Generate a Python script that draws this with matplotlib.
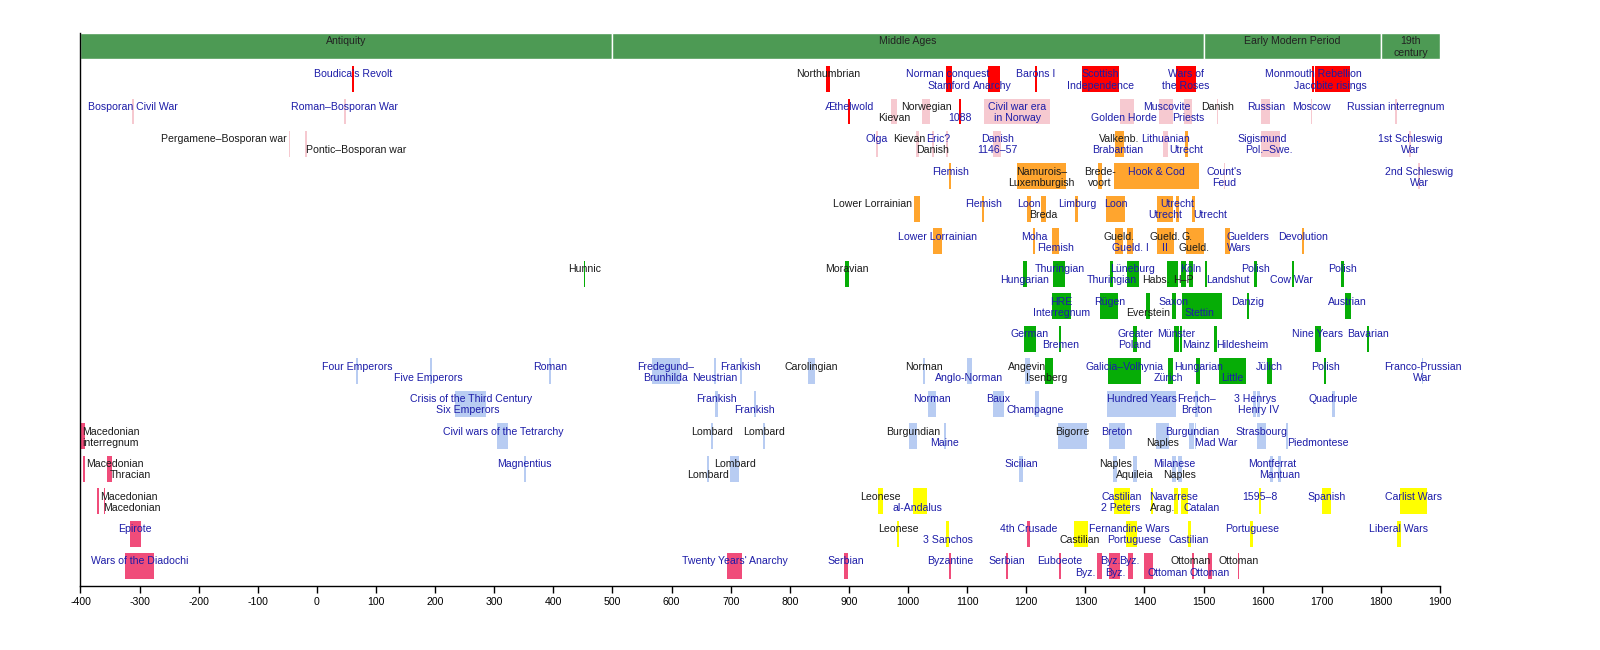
import matplotlib
matplotlib.use("Agg")
import matplotlib.pyplot as plt

plt.rcParams['font.family'] = ['Liberation Sans', 'DejaVu Sans']

# ---------------- data ----------------
ERA_NAMES = ["Antiquity", "Middle Ages", "Early Modern Period", "19th\ncentury"]
ERA_BOUNDS = [-400, 500, 1500, 1800, 1900]
X_TICKS = list(range(-400, 1901, 100))

# kind of conflict -> colour group
KIND_COLORS = {
    "brit": "#ff0000",
    "east": "#f6c9d0",
    "low": "#ffa52e",
    "ger": "#06ad06",
    "west": "#b8ccf2",
    "iber": "#ffff00",
    "south": "#f04c7a",
}

# (name, start, end, kind, linked)
row_00 = [("Boudica's Revolt", 59, 62, "brit", 1), ("Northumbrian", 862, 868, "brit", 0),
          ("Norman conquest", 1064, 1075, "brit", 1), ("Stamford", 1066, 1067, "brit", 1),
          ("Anarchy", 1135, 1155, "brit", 1), ("Barons I", 1214, 1218, "brit", 1),
          ("Scottish\nIndependence", 1294, 1357, "brit", 1), ("Wars of\nthe Roses", 1453, 1488, "brit", 1),
          ("Monmouth Rebellion", 1684, 1686, "brit", 1), ("Jacobite risings", 1689, 1747, "brit", 1)]
row_01 = [("Bosporan Civil War", -312, -309, "east", 1), ("Roman–Bosporan War", 45, 50, "east", 1),
          ("Æthelwold", 899, 902, "brit", 1), ("Kievan", 971, 981, "east", 0),
          ("Norwegian", 1024, 1037, "east", 0), ("1088", 1087, 1090, "brit", 1),
          ("Civil war era\nin Norway", 1129, 1241, "east", 1), ("Golden Horde", 1359, 1382, "east", 1),
          ("Muscovite", 1425, 1449, "east", 1), ("Priests", 1467, 1480, "east", 1),
          ("Danish", 1522, 1525, "east", 0), ("Russian", 1598, 1613, "east", 1),
          ("Moscow", 1682, 1684, "east", 1), ("Russian interregnum", 1824, 1827, "east", 1)]
row_02 = [("Pergamene–Bosporan war", -48, -45, "east", 0), ("Pontic–Bosporan war", -20, -17, "east", 0),
          ("Olga", 945, 950, "east", 1), ("Kievan", 1013, 1019, "east", 0),
          ("Danish", 1041, 1044, "east", 0), ("Eric?", 1064, 1067, "east", 1),
          ("Danish\n1146–57", 1144, 1158, "east", 1), ("Valkenb.", 1350, 1366, "low", 0),
          ("Brabantian", 1356, 1357, "low", 1), ("Lithuanian", 1431, 1439, "east", 1),
          ("Utrecht", 1469, 1474, "low", 1), ("Sigismund", 1598, 1600, "east", 1),
          ("Pol.–Swe.", 1600, 1629, "east", 1), ("1st Schleswig\nWar", 1848, 1851, "east", 1)]
row_03 = [("Flemish", 1070, 1073, "low", 1), ("Namurois–\nLuxemburgish", 1184, 1267, "low", 0),
          ("Brede-\nvoort", 1322, 1328, "low", 0), ("Hook & Cod", 1349, 1492, "low", 1),
          ("Count's\nFeud", 1534, 1536, "east", 1), ("2nd Schleswig\nWar", 1863, 1866, "east", 1)]
row_04 = [("Lower Lorrainian", 1010, 1020, "low", 0), ("Flemish", 1125, 1129, "low", 1),
          ("Loon", 1202, 1208, "low", 1), ("Breda", 1225, 1233, "low", 0),
          ("Limburg", 1283, 1288, "low", 1), ("Loon", 1335, 1367, "low", 1),
          ("Utrecht", 1421, 1449, "low", 1), ("Utrecht", 1454, 1458, "low", 1),
          ("Utrecht", 1481, 1485, "low", 1)]
row_05 = [("Lower Lorrainian", 1043, 1057, "low", 1), ("Moha", 1212, 1215, "low", 1),
          ("Flemish", 1244, 1256, "low", 1), ("Gueld.", 1350, 1363, "low", 0),
          ("Gueld. I", 1370, 1381, "low", 1), ("Gueld.", 1421, 1450, "low", 0),
          ("II", 1421, 1450, "low", 1), ("G.", 1470, 1473, "low", 0),
          ("Gueld.", 1474, 1501, "low", 0), ("Guelders\nWars", 1536, 1545, "low", 1),
          ("Devolution", 1667, 1670, "low", 1)]
row_06 = [("Hunnic", 451, 454, "ger", 0), ("Moravian", 894, 900, "ger", 0),
          ("Hungarian", 1194, 1201, "ger", 1), ("Thuringian", 1246, 1266, "ger", 1),
          ("Thuringian", 1342, 1347, "ger", 1), ("Lüneburg", 1370, 1390, "ger", 1),
          ("Habs.", 1438, 1457, "ger", 0), ("H–P", 1462, 1471, "ger", 0),
          ("Köln", 1475, 1482, "ger", 1), ("Landshut", 1502, 1506, "ger", 1),
          ("Polish", 1585, 1590, "ger", 1), ("Cow War", 1650, 1653, "ger", 1),
          ("Polish", 1733, 1738, "ger", 1)]
row_07 = [("HRE\nInterregnum", 1244, 1276, "ger", 1), ("Rügen", 1325, 1356, "ger", 1),
          ("Everstein", 1402, 1410, "ger", 0), ("Saxon", 1446, 1453, "ger", 1),
          ("Stettin", 1464, 1531, "ger", 1), ("Danzig", 1573, 1577, "ger", 1),
          ("Austrian", 1739, 1749, "ger", 1)]
row_08 = [("German", 1196, 1216, "ger", 1), ("Bremen", 1256, 1259, "ger", 1),
          ("Greater\nPoland", 1381, 1387, "ger", 1), ("Münster", 1450, 1459, "ger", 1),
          ("Mainz", 1460, 1463, "ger", 1), ("Hildesheim", 1518, 1523, "ger", 1),
          ("Nine Years", 1688, 1698, "ger", 1), ("Bavarian", 1777, 1780, "ger", 1)]
row_09 = [("Four Emperors", 66, 69, "west", 1), ("Five Emperors", 191, 194, "west", 1),
          ("Roman", 392, 396, "west", 1), ("Fredegund–\nBrunhilda", 567, 614, "west", 1),
          ("Neustrian", 672, 675, "west", 1), ("Frankish", 715, 719, "west", 1),
          ("Carolingian", 830, 843, "west", 0), ("Norman", 1026, 1028, "west", 0),
          ("Anglo-Norman", 1099, 1108, "west", 1), ("Angevin", 1198, 1206, "west", 0),
          ("Isenberg", 1232, 1246, "ger", 0), ("Galicia–Volhynia", 1339, 1394, "ger", 1),
          ("Zürich", 1440, 1448, "ger", 1), ("Hungarian", 1488, 1494, "ger", 1),
          ("Little", 1526, 1571, "ger", 1), ("Jülich", 1608, 1615, "ger", 1),
          ("Polish", 1704, 1707, "ger", 1), ("Franco-Prussian\nWar", 1869, 1872, "west", 1)]
row_10 = [("Crisis of the Third Century", 234, 286, "west", 1), ("Six Emperors", 237, 239, "west", 1),
          ("Frankish", 674, 679, "west", 1), ("Frankish", 739, 743, "west", 1),
          ("Norman", 1034, 1048, "west", 1), ("Baux", 1143, 1163, "west", 1),
          ("Champagne", 1215, 1222, "west", 1), ("Hundred Years", 1337, 1454, "west", 1),
          ("French–\nBreton", 1486, 1491, "west", 1), ("3 Henrys", 1584, 1589, "west", 1),
          ("Henry IV", 1590, 1595, "west", 1), ("Quadruple", 1718, 1722, "west", 1)]
row_11 = [("Macedonian\ninterregnum", -400, -392, "south", 0), ("Civil wars of the Tetrarchy", 305, 324, "west", 1),
          ("Lombard", 667, 670, "west", 0), ("Lombard", 755, 758, "west", 0),
          ("Burgundian", 1002, 1016, "west", 0), ("Maine", 1061, 1064, "west", 1),
          ("Bigorre", 1254, 1302, "west", 0), ("Breton", 1340, 1367, "west", 1),
          ("Naples", 1420, 1442, "west", 0), ("Burgundian", 1476, 1484, "west", 1),
          ("Mad War", 1485, 1488, "west", 1), ("Strasbourg", 1591, 1605, "west", 1),
          ("Piedmontese", 1639, 1643, "west", 1)]
row_12 = [("Macedonian", -395, -392, "south", 0), ("Thracian", -355, -347, "south", 0),
          ("Magnentius", 350, 353, "west", 1), ("Lombard", 660, 663, "west", 0),
          ("Lombard", 699, 714, "west", 0), ("Sicilian", 1188, 1195, "west", 1),
          ("Naples", 1347, 1354, "west", 0), ("Aquileia", 1381, 1388, "west", 0),
          ("Milanese", 1447, 1454, "west", 1), ("Naples", 1456, 1463, "west", 0),
          ("Montferrat", 1613, 1618, "west", 1), ("Mantuan", 1626, 1631, "west", 1)]
row_13 = [("Macedonian", -372, -369, "south", 0), ("Macedonian", -361, -358, "south", 0),
          ("Leonese", 950, 957, "iber", 0), ("al-Andalus", 1009, 1032, "iber", 1),
          ("Castilian", 1351, 1369, "iber", 1), ("2 Peters", 1349, 1375, "iber", 1),
          ("Arag.", 1411, 1415, "iber", 0), ("Navarrese", 1450, 1456, "iber", 1),
          ("Catalan", 1462, 1473, "iber", 1), ("1595–8", 1594, 1597, "iber", 1),
          ("Spanish", 1701, 1715, "iber", 1), ("Carlist Wars", 1832, 1878, "iber", 1)]
row_14 = [("Epirote", -317, -298, "south", 1), ("Leonese", 981, 985, "iber", 0),
          ("3 Sanchos", 1065, 1069, "iber", 1), ("4th Crusade", 1202, 1206, "south", 1),
          ("Castilian", 1281, 1305, "iber", 0), ("Fernandine Wars", 1369, 1382, "iber", 1),
          ("Portuguese", 1382, 1387, "iber", 1), ("Castilian", 1473, 1478, "iber", 1),
          ("Portuguese", 1579, 1584, "iber", 1), ("Liberal Wars", 1827, 1834, "iber", 1)]
row_15 = [("Wars of the Diadochi", -325, -276, "south", 1), ("Twenty Years' Anarchy", 694, 719, "south", 1),
          ("Serbian", 891, 898, "south", 1), ("Byzantine", 1070, 1073, "south", 1),
          ("Serbian", 1165, 1169, "south", 1), ("Euboeote", 1255, 1258, "south", 1),
          ("Byz.", 1320, 1329, "south", 1), ("Byz.", 1340, 1349, "south", 1),
          ("Byz.", 1349, 1359, "south", 1), ("Byz.", 1373, 1380, "south", 1),
          ("Ottoman", 1400, 1414, "south", 1), ("Ottoman", 1481, 1483, "south", 0),
          ("Ottoman", 1508, 1514, "south", 1), ("Ottoman", 1558, 1560, "south", 0)]

# label placement per war: (line 'u'/'l', anchor year or None = bar centre, alignment)
pos_00 = [("u", None, "c"), ("u", None, "c"), ("u", 1067, "c"), ("l", 1069, "c"), ("l", 1142, "c"),
          ("u", None, "c"), ("u", 1325, "c"), ("u", None, "c"), ("u", None, "c"), ("l", 1715, "c")]
pos_01 = [("u", None, "c"), ("u", None, "c"), ("u", None, "c"), ("l", None, "c"), ("u", None, "c"),
          ("l", None, "c"), ("u", None, "c"), ("l", 1365, "c"), ("u", None, "c"), ("l", None, "c"),
          ("u", None, "c"), ("u", None, "c"), ("u", None, "c"), ("u", None, "c")]
pos_02 = [("u", -51, "r"), ("l", -19, "l"), ("u", None, "c"), ("u", 1029, "r"), ("l", 1041, "c"),
          ("u", 1031, "l"), ("u", None, "c"), ("u", None, "c"), ("l", 1355, "c"), ("u", None, "c"),
          ("l", 1470, "c"), ("u", None, "c"), ("l", 1611, "c"), ("u", None, "c")]
pos_03 = [("u", None, "c"), ("u", None, "c"), ("u", None, "c"), ("u", None, "c"), ("u", None, "c"),
          ("u", None, "c")]
pos_04 = [("u", 1006, "r"), ("u", None, "c"), ("u", None, "c"), ("l", None, "c"), ("u", None, "c"),
          ("u", None, "c"), ("l", None, "c"), ("u", None, "c"), ("l", 1482, "l")]
pos_05 = [("u", None, "c"), ("u", None, "c"), ("l", None, "c"), ("u", None, "c"), ("l", None, "c"),
          ("u", None, "c"), ("l", None, "c"), ("u", None, "c"), ("l", 1484, "c"), ("u", 1539, "l"),
          ("u", None, "c")]
pos_06 = [("u", None, "c"), ("u", None, "c"), ("l", None, "c"), ("u", None, "c"), ("l", None, "c"),
          ("u", None, "c"), ("l", 1420, "c"), ("l", None, "c"), ("u", None, "c"), ("l", 1504, "l"),
          ("u", None, "c"), ("l", 1649, "c"), ("u", None, "c")]
pos_07 = [("u", None, "c"), ("u", None, "c"), ("l", None, "c"), ("u", None, "c"), ("l", 1493, "c"),
          ("u", None, "c"), ("u", None, "c")]
pos_08 = [("u", None, "c"), ("l", None, "c"), ("u", None, "c"), ("u", None, "c"), ("l", 1463, "l"),
          ("l", 1521, "l"), ("u", None, "c"), ("u", None, "c")]
pos_09 = [("u", None, "c"), ("l", 189, "c"), ("u", None, "c"), ("u", None, "c"), ("l", None, "c"),
          ("u", None, "c"), ("u", None, "c"), ("u", None, "c"), ("l", None, "c"), ("u", None, "c"),
          ("l", 1235, "c"), ("u", None, "c"), ("l", 1440, "c"), ("u", None, "c"), ("l", None, "c"),
          ("u", None, "c"), ("u", None, "c"), ("u", None, "c")]
pos_10 = [("u", None, "c"), ("l", 256, "c"), ("u", None, "c"), ("l", None, "c"), ("u", None, "c"),
          ("u", None, "c"), ("l", 1215, "c"), ("u", None, "c"), ("u", None, "c"), ("u", None, "c"),
          ("l", None, "c"), ("u", None, "c")]
pos_11 = [("u", -397, "l"), ("u", None, "c"), ("u", None, "c"), ("u", None, "c"), ("u", None, "c"),
          ("l", None, "c"), ("u", None, "c"), ("u", None, "c"), ("l", None, "c"), ("u", None, "c"),
          ("l", 1486, "l"), ("u", None, "c"), ("l", 1641, "l")]
pos_12 = [("u", -390, "l"), ("l", -350, "l"), ("u", None, "c"), ("l", None, "c"), ("u", None, "c"),
          ("u", None, "c"), ("u", None, "c"), ("l", None, "c"), ("u", None, "c"), ("l", None, "c"),
          ("u", None, "c"), ("l", None, "c")]
pos_13 = [("u", -366, "l"), ("l", -361, "l"), ("u", None, "c"), ("l", 1016, "c"), ("u", 1361, "c"),
          ("l", 1359, "c"), ("l", 1430, "c"), ("u", 1450, "c"), ("l", 1466, "l"), ("u", None, "c"),
          ("u", None, "c"), ("u", None, "c")]
pos_14 = [("u", None, "c"), ("u", None, "c"), ("l", None, "c"), ("u", None, "c"), ("l", 1290, "c"),
          ("u", 1375, "c"), ("l", 1383, "c"), ("l", None, "c"), ("u", None, "c"), ("u", None, "c")]
pos_15 = [("u", None, "c"), ("u", None, "c"), ("u", None, "c"), ("u", None, "c"), ("u", None, "c"),
          ("u", None, "c"), ("l", 1318, "r"), ("u", 1342, "c"), ("l", 1350, "c"), ("u", 1375, "c"),
          ("l", 1406, "l"), ("u", 1478, "c"), ("l", None, "c"), ("u", None, "c")]

ROWS = [row_00, row_01, row_02, row_03, row_04, row_05, row_06, row_07,
        row_08, row_09, row_10, row_11, row_12, row_13, row_14, row_15]
PLACEMENTS = [pos_00, pos_01, pos_02, pos_03, pos_04, pos_05, pos_06, pos_07,
              pos_08, pos_09, pos_10, pos_11, pos_12, pos_13, pos_14, pos_15]

# ---------------- style ----------------
LINK_COLOR = "#1c1ca8"
PLAIN_COLOR = "#1a1a1a"
HEADER_COLOR = "#4d9a54"
FS = 7.6
BAR_H = 0.8
Y_TOP = -1.417
Y_BOTTOM = 15.614
UPPER = -0.14
LOWER = 0.20
HA = {"c": "center", "l": "left", "r": "right"}

fig = plt.figure(figsize=(16, 6.5), dpi=100)
ax = fig.add_axes([0.0503, 0.0985, 0.8497, 0.8507])
ax.set_xlim(ERA_BOUNDS[0], ERA_BOUNDS[-1])
ax.set_ylim(Y_BOTTOM, Y_TOP)

# era header
for k, name in enumerate(ERA_NAMES):
    a, b = ERA_BOUNDS[k], ERA_BOUNDS[k + 1]
    ax.barh(Y_TOP + BAR_H / 2, b - a, left=a, height=BAR_H, color=HEADER_COLOR,
            edgecolor="white", linewidth=1.0, zorder=1)
    lines = name.split("\n")
    if len(lines) == 1:
        ax.text((a + b) / 2, Y_TOP + BAR_H / 2 + UPPER, name, ha="center", va="center",
                fontsize=FS, color="#222222", zorder=5)
    else:
        for j, ln in enumerate(lines):
            ax.text((a + b) / 2, Y_TOP + BAR_H / 2 + (UPPER if j == 0 else LOWER), ln,
                    ha="center", va="center", fontsize=FS, color="#222222", zorder=5)

# wars
for r, (wars, places) in enumerate(zip(ROWS, PLACEMENTS)):
    for (name, s, e, kind, linked), (line, at, ha) in zip(wars, places):
        ax.barh(r, e - s, left=s, height=BAR_H, color=KIND_COLORS[kind], linewidth=0, zorder=2)
        x = at if at is not None else (s + e) / 2
        col = LINK_COLOR if linked else PLAIN_COLOR
        lines = name.split("\n")
        if len(lines) == 1:
            ys = [UPPER if line == "u" else LOWER]
        else:
            ys = [UPPER, LOWER]
        for ln, dy in zip(lines, ys):
            ax.text(x, r + dy, ln, ha=HA[ha], va="center", fontsize=FS, color=col, zorder=5)

ax.spines["top"].set_visible(False)
ax.spines["right"].set_visible(False)
ax.spines["left"].set_linewidth(1.0)
ax.spines["bottom"].set_linewidth(1.0)
ax.set_yticks([])
ax.set_xticks(X_TICKS)
ax.set_xticklabels([str(t) for t in X_TICKS])
ax.tick_params(axis="x", direction="out", length=5, width=1, labelsize=FS, pad=3)

fig.savefig("out.png", dpi=100)
